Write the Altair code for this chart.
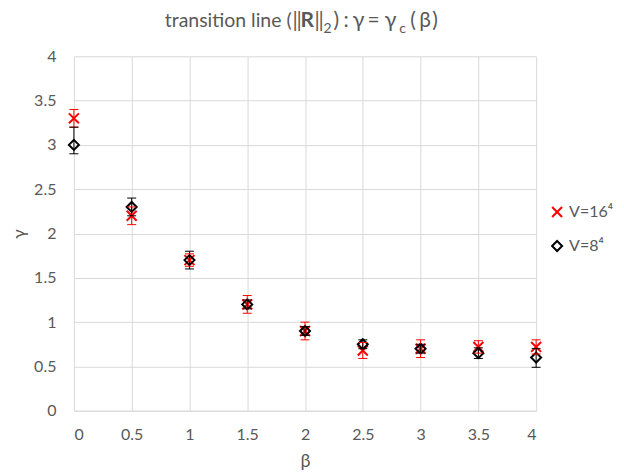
import altair as alt
import pandas as pd

# ---- data ----
beta = [0, 0.5, 1, 1.5, 2, 2.5, 3, 3.5, 4]
series_names = ["V=16\u2074", "V=8\u2074"]

v16 = [3.3, 2.2, 1.7, 1.2, 0.9, 0.68, 0.7, 0.72, 0.72]
v16_lo = [3.2, 2.1, 1.63, 1.1, 0.8, 0.59, 0.6, 0.65, 0.64]
v16_hi = [3.4, 2.3, 1.77, 1.3, 1.0, 0.77, 0.8, 0.79, 0.8]

v8 = [3.0, 2.3, 1.7, 1.2, 0.9, 0.75, 0.7, 0.65, 0.6]
v8_lo = [2.9, 2.2, 1.6, 1.15, 0.85, 0.7, 0.65, 0.59, 0.49]
v8_hi = [3.2, 2.4, 1.8, 1.25, 0.95, 0.8, 0.75, 0.71, 0.7]

# title "transition line (‖R‖₂): γ=γc(β)" split into glyph runs
title_pieces = ["transition line (", "\u2016", "R", "\u2016", "2", ")", ":",
                "\u03b3", "=", "\u03b3", "c", "(", "\u03b2", ")"]

rows = []
for name, ys, lo, hi in [(series_names[0], v16, v16_lo, v16_hi),
                         (series_names[1], v8, v8_lo, v8_hi)]:
    for b, y, l, h in zip(beta, ys, lo, hi):
        rows.append({"beta": b, "gamma": y, "lo": l, "hi": h, "series": name})
df = pd.DataFrame(rows)

FONT = "Lato"
GRAY = "#595959"
XPATH = "M-1,-1L1,1M-1,1L1,-1"

stroke_scale = alt.Scale(domain=series_names, range=["#ff0000", "#000000"])
shape_scale = alt.Scale(domain=series_names, range=[XPATH, "diamond"])

legend = alt.Legend(
    title=None, orient="none", legendX=476, legendY=148, padding=0,
    labelFont=FONT, labelFontSize=16, labelColor=GRAY,
    symbolStrokeWidth=2, symbolSize=100, rowPadding=16, labelOffset=4,
    symbolFillColor="transparent",
)

xenc = alt.X("beta:Q", scale=alt.Scale(domain=[0, 4], nice=False),
             axis=alt.Axis(values=beta, title="\u03b2", format="~g"))
yenc = alt.Y("gamma:Q", scale=alt.Scale(domain=[0, 4], nice=False),
             axis=alt.Axis(values=[0, 0.5, 1, 1.5, 2, 2.5, 3, 3.5, 4], title="\u03b3", format="~g"))
senc_color = alt.Stroke("series:N", scale=stroke_scale, legend=legend)
senc_shape = alt.Shape("series:N", scale=shape_scale, legend=legend)

base = alt.Chart(df)

points = base.mark_point(filled=False, fill="transparent", strokeWidth=2, size=100, opacity=1).encode(
    x=xenc, y=yenc, stroke=senc_color, shape=senc_shape,
)
rules = base.mark_rule(strokeWidth=1).encode(
    x="beta:Q", y=alt.Y("lo:Q"), y2="hi:Q", stroke=senc_color,
)
caps_lo = base.mark_rule(strokeWidth=1, xOffset=-4.5, x2Offset=4.5).encode(
    x="beta:Q", x2="beta:Q", y="lo:Q", stroke=senc_color,
)
caps_hi = base.mark_rule(strokeWidth=1, xOffset=-4.5, x2Offset=4.5).encode(
    x="beta:Q", x2="beta:Q", y="hi:Q", stroke=senc_color,
)

# glyph-run left edges (page px minus plot left 74), baselines relative to plot top
tx = [91, 219, 227, 241, 250, 260, 270, 279, 294, 311, 326, 337, 346, 359]
ty = [-29, -29, -29, -29, -23, -29, -29, -29, -29, -29, -23, -29, -29, -29]
tsize = [19.5, 21, 21, 21, 14, 21, 21, 22, 21, 22, 14, 21, 21, 21]
tweight = ["normal", "normal", "bold"] + ["normal"] * 11
title_layers = []
for p, x, y, s, w in zip(title_pieces, tx, ty, tsize, tweight):
    title_layers.append(
        alt.Chart(pd.DataFrame({"t": [p]})).mark_text(
            align="left", baseline="alphabetic", font=FONT, fontSize=s,
            fontWeight=w, color=GRAY,
        ).encode(x=alt.value(x), y=alt.value(y), text="t:N")
    )

chart = alt.layer(points, rules, caps_lo, caps_hi, *title_layers).properties(
    width=463, height=355,
    autosize=alt.AutoSizeParams(type="none"),
    padding={"left": 66, "top": 48, "right": 80, "bottom": 60},
).configure_view(stroke=None).configure_axis(
    labelFont=FONT, labelFontSize=16, labelColor=GRAY,
    titleFont=FONT, titleFontSize=18, titleColor=GRAY, titleFontWeight="normal",
    gridColor="#d9d9d9", ticks=False, domain=False,
).configure_axisX(
    labelPadding=16, titleY=51, titleBaseline="middle", domain=True, domainColor="#d9d9d9",
).configure_axisY(
    labelPadding=18, titleX=-54, titleBaseline="middle",
)

chart.save("out.html", embed_options={"renderer": "svg", "actions": False})
